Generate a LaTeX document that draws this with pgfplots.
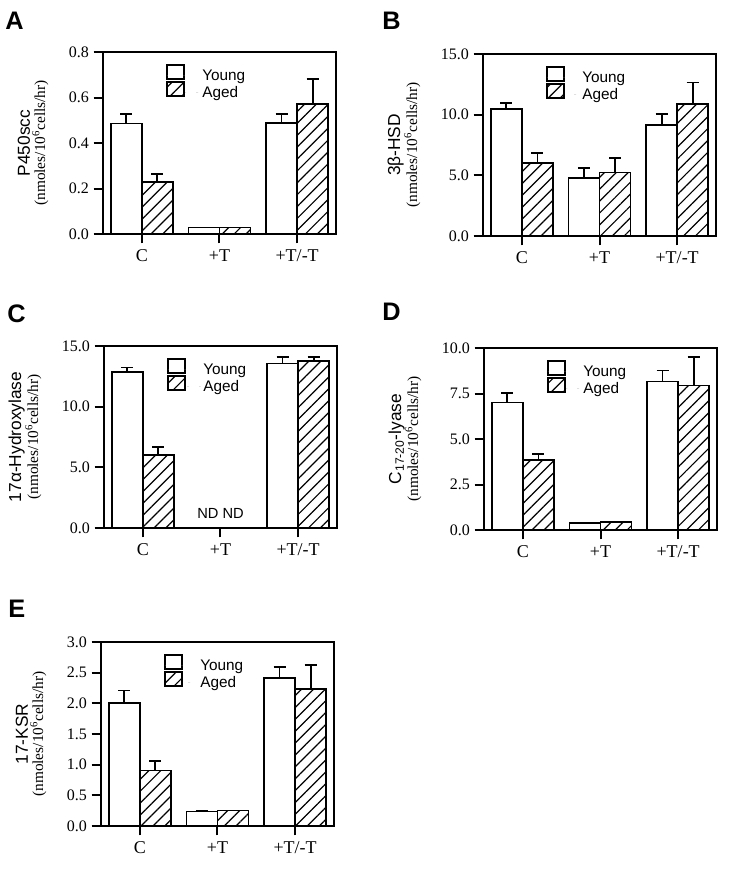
\documentclass[border=0pt]{standalone}
\usepackage{fontspec}
\setmainfont{Liberation Serif}
\setsansfont{Liberation Sans}
\usepackage{pgfplots}
\pgfplotsset{compat=1.18}
\usetikzlibrary{patterns.meta}

\pgfplotsset{
 panel/.style={
  scale only axis, width=174.75pt, height=136.5pt, anchor=south west,
  xmin=-0.5, xmax=2.5, ymin=0,
  xtick={0,1,2}, xticklabels={C,+T,+T/-T},
  tick align=outside, xtick pos=bottom, ytick pos=left,
  major tick length=7pt,
  axis line style={line width=1.5pt},
  every tick/.style={black, line width=1.5pt},
  /pgf/number format/assume math mode=true,
  yticklabel style={font=\fontsize{12}{14}\selectfont, /pgf/number format/.cd, fixed, fixed zerofill, precision=1},
  xticklabel style={font=\fontsize{13.5}{15}\selectfont, yshift=-1.5pt},
  ylabel style={align=center},
  ylabel shift=8.5pt,
  legend style={draw=none, fill=none, at={(0.27,0.934)}, anchor=north west, inner sep=0pt,
    font=\sffamily\fontsize{11.5}{13}\selectfont, row sep=-2.5pt, cells={anchor=west}},
  legend image code/.code={\draw[#1, line width=1.2pt] (0pt,-2.5pt) rectangle (12.75pt,8pt); \path[draw=none] (0pt,0pt) -- (24.5pt,0pt);},
  bar width=0.4,
 },
 young/.style={ybar, bar shift=0, draw=black, line width=1.2pt, fill=white,
   error bars/y dir=plus, error bars/y explicit, error bars/error mark=-,
   error bars/error bar style={line width=1.3pt, black},
   error bars/error mark options={rotate=90, line width=1.3pt, mark size=4.5pt, black}},
 aged/.style={ybar, bar shift=0, draw=black, line width=1.2pt,
   pattern={Lines[angle=45,distance=6.3pt,line width=0.9pt]},
   error bars/y dir=plus, error bars/y explicit, error bars/error mark=-,
   error bars/error bar style={line width=1.3pt, black},
   error bars/error mark options={rotate=90, line width=1.3pt, mark size=4.5pt, black}},
}
\newcommand\lineone[1]{{\sffamily\fontsize{13}{15}\selectfont #1}}
\newcommand\linetwo{{\fontsize{11.5}{13}\selectfont (nmoles/10\textsuperscript{6}cells/hr)}}

\begin{document}
\begin{tikzpicture}
\useasboundingbox (0,0) rectangle (555pt,-654pt);
\tikzset{letter/.style={anchor=north west, inner sep=0pt, font=\sffamily\bfseries\fontsize{19}{21}\selectfont}}
\node[letter] at (3.75pt,-9pt) {A};
\node[letter] at (286.5pt,-9pt) {B};
\node[letter] at (5.25pt,-228.75pt) {C};
\node[letter] at (286.5pt,-227.25pt) {D};
\node[letter] at (6pt,-450pt) {E};

% Panel A
\begin{axis}[panel, at={(77.25pt,-175.5pt)}, ymax=0.8, ytick={0,0.2,0.4,0.6,0.8},
  ylabel={\lineone{P450scc}\\[-0.5pt]\linetwo}]
\addplot[young] coordinates {(-0.2,0.485) +- (0,0.044) (0.8,0.029) +- (0,0) (1.8,0.488) +- (0,0.041)};
\addlegendentry{Young}
\addplot[aged] coordinates {(0.2,0.229) +- (0,0.035) (1.2,0.029) +- (0,0) (2.2,0.571) +- (0,0.110)};
\addlegendentry{Aged}
\end{axis}

% Panel B
\begin{axis}[panel, at={(362.25pt,-177pt)}, ymax=15, ytick={0,5,10,15},
  ylabel={\lineone{3β-HSD}\\[-0.5pt]\linetwo}]
\addplot[young] coordinates {(-0.2,10.46) +- (0,0.49) (0.8,4.76) +- (0,0.83) (1.8,9.17) +- (0,0.88)};
\addlegendentry{Young}
\addplot[aged] coordinates {(0.2,6.00) +- (0,0.83) (1.2,5.23) +- (0,1.18) (2.2,10.87) +- (0,1.79)};
\addlegendentry{Aged}
\end{axis}

% Panel C
\begin{axis}[panel, at={(78pt,-396pt)}, ymax=15, ytick={0,5,10,15},
  ylabel={\lineone{17α-Hydroxylase}\\[-0.5pt]\linetwo}]
\addplot[young] coordinates {(-0.2,12.84) +- (0,0.38) (1.8,13.55) +- (0,0.55)};
\addlegendentry{Young}
\addplot[aged] coordinates {(0.2,6.02) +- (0,0.63) (2.2,13.77) +- (0,0.33)};
\addlegendentry{Aged}
\node[font=\sffamily\fontsize{11}{12}\selectfont] at (axis cs:1,1.2) {ND ND};
\end{axis}

% Panel D
\begin{axis}[panel, at={(363pt,-397.5pt)}, ymax=10, ytick={0,2.5,5,7.5,10},
  ylabel={\lineone{C\textsubscript{17-20}-lyase}\\[-0.5pt]\linetwo}]
\addplot[young] coordinates {(-0.2,7.01) +- (0,0.51) (0.8,0.40) +- (0,0) (1.8,8.17) +- (0,0.60)};
\addlegendentry{Young}
\addplot[aged] coordinates {(0.2,3.85) +- (0,0.33) (1.2,0.44) +- (0,0) (2.2,7.93) +- (0,1.57)};
\addlegendentry{Aged}
\end{axis}

% Panel E
\begin{axis}[panel, at={(75.75pt,-619.5pt)}, height=138pt, ymax=3, ytick={0,0.5,1,1.5,2,2.5,3},
  ylabel={\lineone{17-KSR}\\[-0.5pt]\linetwo}]
\addplot[young] coordinates {(-0.2,2.01) +- (0,0.20) (0.8,0.239) +- (0,0) (1.8,2.41) +- (0,0.18)};
\addlegendentry{Young}
\addplot[aged] coordinates {(0.2,0.906) +- (0,0.154) (1.2,0.255) +- (0,0) (2.2,2.23) +- (0,0.40)};
\addlegendentry{Aged}
\end{axis}
\end{tikzpicture}
\end{document}
